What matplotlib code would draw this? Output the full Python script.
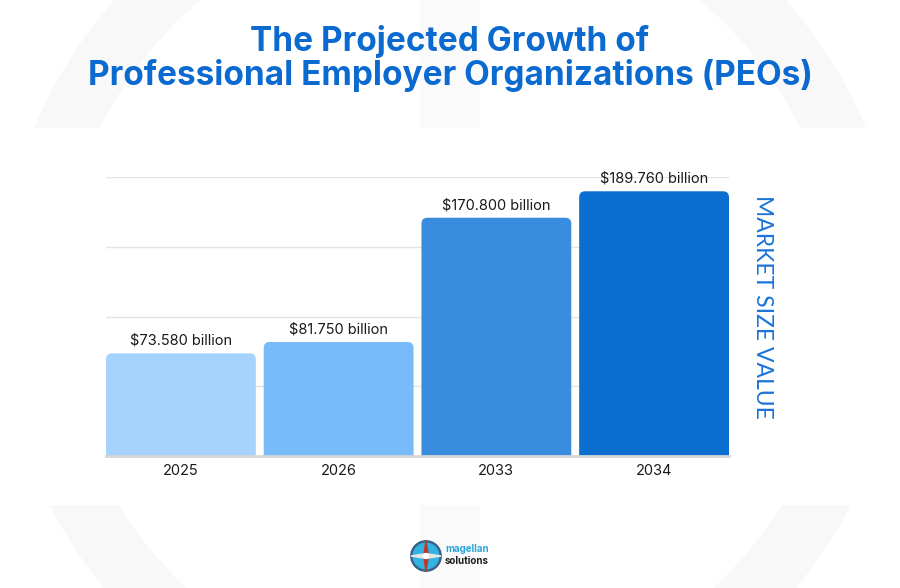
import matplotlib
matplotlib.use("Agg")
import matplotlib.pyplot as plt
from matplotlib.patches import FancyBboxPatch, Circle, Wedge, Polygon, Rectangle
import numpy as np

years = ["2025", "2026", "2033", "2034"]
values = [73.58, 81.75, 170.80, 189.76]
labels = ["$73.580 billion", "$81.750 billion", "$170.800 billion", "$189.760 billion"]
colors = ["#A6D3FD", "#78BBFB", "#3A8DDE", "#0A6FD0"]
grid_vals = [50, 100, 150, 200]

plt.rcParams['font.family'] = ['Inter', 'DejaVu Sans']

fig = plt.figure(figsize=(9, 5.88), dpi=100)
fig.patch.set_facecolor("white")

# faint watermark background + white panel
bg = fig.add_axes([0, 0, 1, 1], zorder=-10)
bg.set_xlim(0, 900); bg.set_ylim(588, 0); bg.axis("off")
bg.add_patch(Wedge((450, 300), 450, 0, 360, width=60, facecolor="#f8f8f8", edgecolor="none"))
bg.add_patch(Rectangle((420, 0), 60, 588, facecolor="#fafafa", edgecolor="none"))
bg.add_patch(Rectangle((0, 128), 900, 377, facecolor="white", edgecolor="none"))

ax = fig.add_axes([106/900, 1-456/588, 623/900, (456-177)/588])
x = np.arange(len(years))
bars = ax.bar(x, values, width=0.95, color=colors)
ax.set_xlim(-0.475, 3.475)
ax.set_ylim(0, 200)

# replace with rounded-top bars
px_x = 3.95/623
px_y = 200/279
for b, c in zip(bars, colors):
    b.set_visible(False)
    r = 6*px_x
    p = FancyBboxPatch((b.get_x(), -20), b.get_width(), b.get_height()+20,
                       boxstyle=f"round,pad=0,rounding_size={r}",
                       mutation_aspect=px_y/px_x, facecolor=c, edgecolor="none",
                       zorder=3)
    ax.add_patch(p)

for gv in grid_vals:
    ax.axhline(gv, color="#e4e4e4", lw=1.0, zorder=1)
ax.axhline(0, color="#d6d6d6", lw=2.0, zorder=4, clip_on=False)

for xi, v, lab in zip(x, values, labels):
    ax.annotate(lab, (xi, v), xytext=(0, 4), textcoords="offset points",
                ha="center", va="bottom", fontsize=10.5, color="#1a1a1a",
                annotation_clip=False)

ax.set_xticks(x)
ax.set_xticklabels(years, fontsize=10.5, color="#1a1a1a")
ax.tick_params(axis="x", length=0, pad=6)
ax.set_yticks([])
for s in ax.spines.values():
    s.set_visible(False)
ax.patch.set_alpha(0)

fig.text(762/900, 1-307/588, "MARKET SIZE VALUE", rotation=-90, ha="center", va="center",
         fontsize=16.5, color="#1A73D9", fontweight="normal", family=['Lato', 'DejaVu Sans'])

title_color = "#0B6AD0"
fig.text(450/900, 1-41/588, "The Projected Growth of", ha="center", va="center",
         fontsize=24, fontweight="bold", color=title_color)
fig.text(450/900, 1-76/588, "Professional Employer Organizations (PEOs)", ha="center", va="center",
         fontsize=24, fontweight="bold", color=title_color)

# logo
lax = fig.add_axes([410/900, 1-572/588, 32/900, 32/588])
lax.set_xlim(-1, 1); lax.set_ylim(-1, 1); lax.set_aspect("equal"); lax.axis("off")
lax.add_patch(Circle((0, 0), 0.95, color="#3b5f86"))
lax.add_patch(Circle((0, 0), 0.8, color="#33b3e0"))
lax.add_patch(Polygon([[0, 0.95], [0.15, 0], [0, -0.95], [-0.15, 0]], color="#c0392b"))
lax.add_patch(Polygon([[0.95, 0], [0, 0.15], [-0.95, 0], [0, -0.15]], color="#e8e8e8"))
lax.add_patch(Circle((0, 0), 0.15, color="white"))
fig.text(445/900, 1-549/588, "magellan", ha="left", va="center", fontsize=7,
         fontweight="bold", color="#2AA6D9")
fig.text(445/900, 1-561/588, "solutions", ha="left", va="center", fontsize=7,
         fontweight="bold", color="#1e1e1e")

fig.savefig("out.png", dpi=100, facecolor="white")
